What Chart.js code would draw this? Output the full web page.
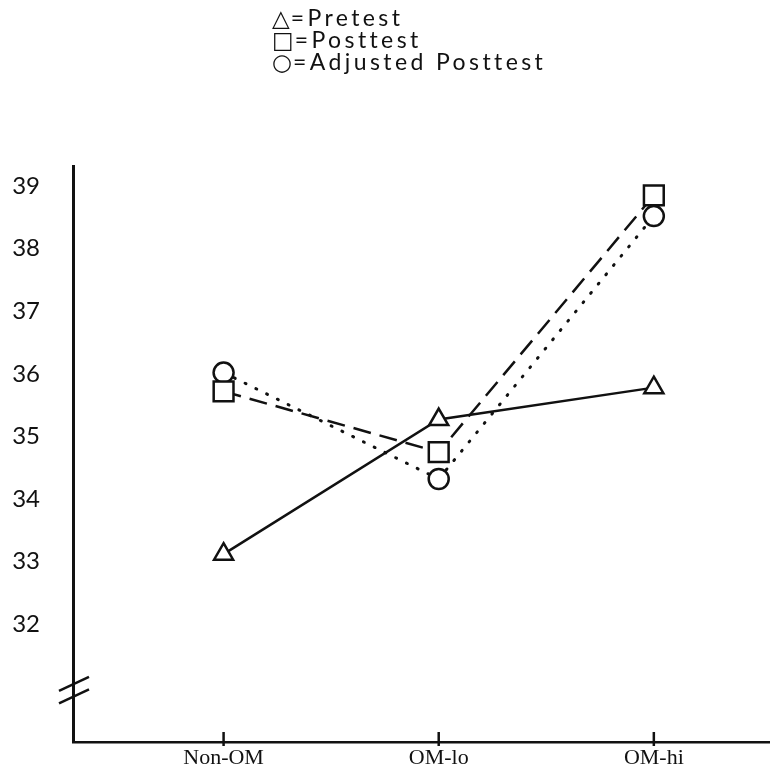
<!DOCTYPE html>
<html>
<head>
<meta charset="utf-8">
<script src="https://cdn.jsdelivr.net/npm/chart.js@4"></script>
<style>
  body { margin: 0; background: #fff; }
  #wrap { position: relative; width: 770px; height: 774px; }
  #key {
    position: absolute; left: 272px; top: 7px;
    font-family: Lato, sans-serif; font-size: 23px; letter-spacing: 3.4px;
    line-height: 21px; color: #111;
  }
  #key .sym { font-family: "DejaVu Sans", sans-serif; font-size: 23px; letter-spacing: 1px; }
</style>
</head>
<body>
<div id="wrap">
  <canvas id="chart" width="770" height="774"></canvas>
  <div id="key">
    <div><span class="sym">△</span>=Pretest</div>
    <div><span class="sym">□</span>=Posttest</div>
    <div><span class="sym">○</span>=Adjusted Posttest</div>
  </div>
</div>
<script>
const categories = ['Non-OM', 'OM-lo', 'OM-hi'];
const pretest = [33.12, 35.27, 35.78];
const posttest = [35.72, 34.75, 38.85];
const adjusted = [36.02, 34.32, 38.52];
const yTicks = [32, 33, 34, 35, 36, 37, 38, 39];

function points(values) {
  return values.map((v, i) => ({ x: i + 1, y: v }));
}

// axis break marks and the small category ticks on the x axis
const axisMarks = {
  id: 'axisMarks',
  afterDraw(chart) {
    const { ctx, scales: { x, y } } = chart;
    ctx.save();
    ctx.strokeStyle = '#111';
    ctx.lineWidth = 2.5;
    const ax = x.left;
    [31.0, 30.8].forEach(v => {
      const py = y.getPixelForValue(v);
      ctx.beginPath();
      ctx.moveTo(ax - 14, py + 4);
      ctx.lineTo(ax + 16, py - 10);
      ctx.stroke();
    });
    categories.forEach((c, i) => {
      const px = x.getPixelForValue(i + 1);
      ctx.beginPath();
      ctx.moveTo(px, y.bottom - 10);
      ctx.lineTo(px, y.bottom + 4);
      ctx.stroke();
    });
    ctx.restore();
  }
};

// drop the label overhang padding so the axes run to the canvas edges
function noOverhang(scale) {
  scale.paddingLeft = 0;
  scale.paddingRight = 0;
  scale.paddingTop = 0;
  scale.paddingBottom = 0;
}

const ctx = document.getElementById('chart').getContext('2d');

new Chart(ctx, {
  type: 'line',
  data: {
    datasets: [
      {
        label: 'Pretest',
        data: points(pretest),
        borderColor: '#111',
        borderWidth: 2.5,
        pointStyle: 'triangle',
        pointRadius: 11,
        pointBorderWidth: 2.5,
        pointBackgroundColor: '#fff',
        pointBorderColor: '#111',
      },
      {
        label: 'Posttest',
        data: points(posttest),
        borderColor: '#111',
        borderWidth: 2.5,
        borderDash: [18, 9],
        pointStyle: 'rect',
        pointRadius: 14,
        pointBorderWidth: 2.5,
        pointBackgroundColor: '#fff',
        pointBorderColor: '#111',
      },
      {
        label: 'Adjusted Posttest',
        data: points(adjusted),
        borderColor: '#111',
        borderWidth: 3,
        borderDash: [1, 11],
        borderCapStyle: 'round',
        pointStyle: 'circle',
        pointRadius: 10,
        pointBorderWidth: 2.5,
        pointBackgroundColor: '#fff',
        pointBorderColor: '#111',
      },
    ],
  },
  options: {
    responsive: false,
    animation: false,
    layout: {
      autoPadding: false,
      padding: { top: 166, right: 0, left: 0, bottom: 0 },
    },
    plugins: {
      legend: { display: false },
      tooltip: { enabled: false },
    },
    scales: {
      x: {
        type: 'linear',
        min: 0.3,
        max: 3.54,
        afterFit(scale) {
          scale.height = 32;
          noOverhang(scale);
        },
        afterBuildTicks(scale) {
          scale.ticks = categories.map((c, i) => ({ value: i + 1 }));
        },
        grid: { display: false, drawTicks: false },
        border: { color: '#111', width: 2.5 },
        ticks: {
          padding: 3,
          color: '#111',
          font: { family: '"Liberation Serif", serif', size: 22 },
          callback: v => categories[v - 1],
        },
      },
      y: {
        min: 30.12,
        max: 39.32,
        afterFit(scale) {
          scale.width = 73;
          noOverhang(scale);
        },
        afterBuildTicks(scale) {
          scale.ticks = yTicks.map(v => ({ value: v }));
        },
        grid: { display: false, drawTicks: false },
        border: { color: '#111', width: 3 },
        ticks: {
          padding: 33,
          color: '#111',
          font: { family: 'Lato, sans-serif', size: 24 },
        },
      },
    },
  },
  plugins: [axisMarks],
});
</script>
</body>
</html>
